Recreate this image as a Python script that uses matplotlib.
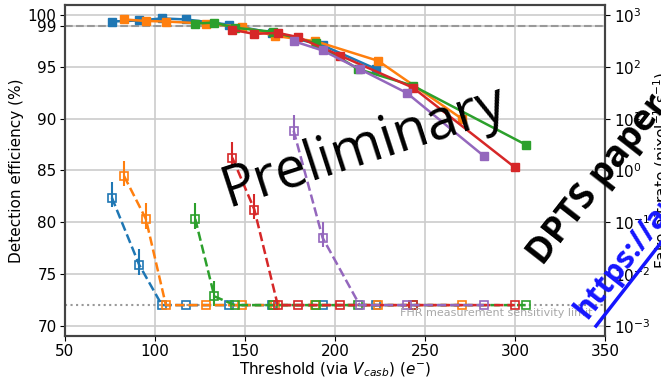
import numpy as np
import matplotlib
matplotlib.use('Agg')
import matplotlib.pyplot as plt
from matplotlib.ticker import LogLocator, NullLocator, LogFormatterMathtext
from matplotlib.lines import Line2D

# FHR measurement sensitivity limit (pixel^-1 s^-1)
lim = 2.5e-3

thr_blue = [76.0, 91.2, 103.8, 117.1, 141.0, 165.0, 193.0, 222.8]
eff_blue = [99.4, 99.5, 99.7, 99.6, 99.1, 98.3, 97.1, 94.8]
fhr_blue = [0.30, 0.015, lim, lim, lim, lim, lim, lim]

thr_orange = [82.8, 94.9, 106.0, 128.0, 148.0, 166.5, 189.0, 223.8, 270.3]
eff_orange = [99.6, 99.45, 99.4, 99.2, 98.9, 98.0, 97.5, 95.6, 90.0]
fhr_orange = [0.78, 0.116, lim, lim, lim, lim, lim, lim, lim]

thr_green = [122.3, 132.9, 144.2, 165.5, 189.2, 212.8, 243.0, 305.7]
eff_green = [99.2, 99.3, 98.8, 98.4, 97.3, 94.8, 93.2, 87.5]
fhr_green = [0.116, 0.0037, lim, lim, lim, lim, lim, lim]

thr_red = [142.9, 155.1, 168.1, 179.2, 202.8, 243.2, 299.7]
eff_red = [98.6, 98.2, 98.3, 97.9, 96.1, 93.0, 85.3]
fhr_red = [1.76, 0.176, lim, lim, lim, lim, lim]

thr_purple = [176.9, 193.0, 213.6, 239.7, 282.5]
eff_purple = [97.5, 96.6, 94.8, 92.5, 86.4]
fhr_purple = [5.9, 0.050, lim, lim, lim]

series = [
    (thr_blue, eff_blue, fhr_blue, 'C0'),
    (thr_orange, eff_orange, fhr_orange, 'C1'),
    (thr_green, eff_green, fhr_green, 'C2'),
    (thr_red, eff_red, fhr_red, 'C3'),
    (thr_purple, eff_purple, fhr_purple, 'C4'),
]

plt.rcParams['font.size'] = 11

fig = plt.figure(figsize=(6.61, 3.81), dpi=100)
ax = fig.add_axes([0.0983, 0.118, 0.8177, 0.869])
ax2 = ax.twinx()

for thr, eff, fhr, c in series:
    eff = np.array(eff)
    eerr = np.where(eff < 90, 0.25, 0.1)
    ax.errorbar(thr, eff, yerr=eerr, fmt='s-', color=c, ms=5.5, lw=1.8,
                elinewidth=1.5, capsize=0)
    fhr = np.array(fhr)
    up = np.where(fhr > lim, 1.0 * fhr, 0)
    lo = np.where(fhr > lim, 0.35 * fhr, 0)
    ax2.errorbar(thr, fhr, yerr=[lo, up], fmt='s--', color=c, mfc='none',
                 ms=5.5, lw=1.8, mew=1.2, elinewidth=1.5, capsize=0)

ax.axhline(99, color='#999999', ls='--', lw=1.5, zorder=1)
ax2.axhline(lim, color='#999999', ls=':', lw=1.5, zorder=1)
ax2.text(343, lim * 0.70, 'FHR measurement sensitivity limit', ha='right',
         va='center', fontsize=8, color='#a8a8a8')

ax.set_xlim(50, 350)
ax.set_ylim(69, 101)
ax.set_yticks([70, 75, 80, 85, 90, 95, 99, 100])
ax.set_xticks(np.arange(50, 351, 50))
ax.grid(color='#cccccc', lw=1.2)
ax.set_axisbelow(True)
ax.tick_params(pad=2.5)
ax2.tick_params(pad=2.5)

ax2.set_yscale('log')
ax2.set_ylim(10**-3.2, 10**3.2)
ax2.yaxis.set_major_locator(LogLocator(base=10, numticks=10))
ax2.yaxis.set_major_formatter(LogFormatterMathtext())
ax2.yaxis.set_minor_locator(NullLocator())

ax.set_xlabel(r'Threshold (via $V_{casb}$) ($e^{-}$)', labelpad=1)
ax.set_ylabel('Detection efficiency (%)', labelpad=3)
ax2.set_ylabel(r'Fake-hit rate (pixel$^{-1}$ s$^{-1}$)', labelpad=1)

for a in (ax, ax2):
    for s in a.spines.values():
        s.set_color('#444444')
        s.set_linewidth(1.5)

# watermark texts
fig.text(228 / 661, 1 - 207 / 381, 'Preliminary', fontsize=40,
         family=['Open Sans', 'DejaVu Sans'], rotation=18,
         rotation_mode='anchor', ha='left', va='baseline', color='black')
fig.text(543 / 661, 1 - 266 / 381, 'DPTS paper', fontsize=26,
         family=['Open Sans', 'DejaVu Sans'], weight='bold', rotation=52,
         rotation_mode='anchor', ha='left', va='baseline', color='black')
fig.text(587 / 661, 1 - 320 / 381, 'https://arxiv.org/abs/2212.08621',
         fontsize=22, family=['Open Sans', 'DejaVu Sans'], weight='bold',
         rotation=52, rotation_mode='anchor', ha='left', va='baseline',
         color='#1515ff')
fig.add_artist(Line2D([596 / 661, 706 / 661], [1 - 326 / 381, 1 - 185 / 381],
                      color='#1515ff', lw=2.5))

fig.savefig('out.png', dpi=100)
